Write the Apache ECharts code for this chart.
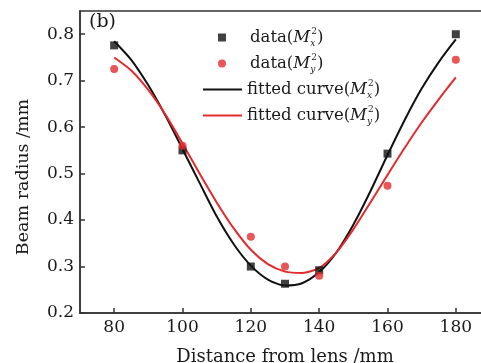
<!DOCTYPE html>
<html>
<head>
<meta charset="utf-8">
<script src="https://cdn.jsdelivr.net/npm/echarts@6/dist/echarts.min.js"></script>
<style>
  html, body { margin: 0; padding: 0; background: #fff; }
  #chart { width: 481px; height: 363px; }
</style>
</head>
<body>
<div id="chart"></div>
<script>
// measured points
const distance = [80, 100, 120, 130, 140, 160, 180];
const radiusX = [0.776, 0.55, 0.30, 0.263, 0.292, 0.543, 0.80];
const radiusY = [0.725, 0.56, 0.364, 0.30, 0.28, 0.474, 0.745];

// fitted curves
const fitDistance = [80, 85, 90, 95, 100, 105, 110, 115, 120, 125, 130, 135, 140, 145, 150, 155, 160, 165, 170, 175, 180];
const fitX = [0.785, 0.745, 0.690, 0.625, 0.553, 0.480, 0.408, 0.348, 0.302, 0.272, 0.259, 0.264, 0.288, 0.330, 0.390, 0.462, 0.540, 0.615, 0.683, 0.740, 0.789];
const fitY = [0.750, 0.722, 0.680, 0.627, 0.565, 0.500, 0.438, 0.382, 0.336, 0.305, 0.289, 0.286, 0.297, 0.330, 0.380, 0.438, 0.497, 0.555, 0.610, 0.660, 0.707];

const xTicks = [80, 100, 120, 140, 160, 180];
const yTicks = [0.2, 0.3, 0.4, 0.5, 0.6, 0.7, 0.8];

const SERIF = 'DejaVu Serif';
const RED = '#e52a2d';
const BLACK = '#111';
const TEXT = '#1a1a1a';

const pair = (xs, ys) => xs.map((x, i) => [x, ys[i]]);

// legend labels with M^2 sub/superscripts
const legendText = {
  'data(Mx)': '{t0|data(}{m|M}{sb|x}{sp|2}{t|)}',
  'data(My)': '{t0|data(}{m|M}{sb|y}{sp|2}{t|)}',
  'fit(Mx)': '{t|fitted curve(}{m|M}{sb|x}{sp|2}{t|)}',
  'fit(My)': '{t|fitted curve(}{m|M}{sb|y}{sp|2}{t|)}'
};

const legendRich = {
  t0: { fontFamily: SERIF, fontSize: 16.5, color: TEXT, lineHeight: 26, verticalAlign: 'middle', padding: [0, 0, 0, 19] },
  t: { fontFamily: SERIF, fontSize: 16.5, color: TEXT, lineHeight: 26, verticalAlign: 'middle' },
  m: { fontFamily: SERIF, fontSize: 16.5, fontStyle: 'italic', color: TEXT, lineHeight: 26, verticalAlign: 'middle' },
  sb: { fontFamily: SERIF, fontSize: 9, fontStyle: 'italic', color: TEXT, lineHeight: 26, verticalAlign: 'bottom', width: 1, padding: [0, 0, 2, 0] },
  sp: { fontFamily: SERIF, fontSize: 9, color: TEXT, lineHeight: 26, verticalAlign: 'top', padding: [3, 0, 0, 0] }
};

const chart = echarts.init(document.getElementById('chart'), null, { renderer: 'canvas' });

const option = {
  animation: false,
  backgroundColor: '#fff',
  title: {
    text: '(b)',
    left: 89,
    top: 13,
    padding: 0,
    textStyle: { fontFamily: SERIF, fontSize: 19, fontWeight: 'normal', color: TEXT }
  },
  grid: {
    left: 80,
    right: -9,
    top: 11,
    bottom: 50,
    outerBoundsMode: 'none',
    containLabel: false,
    show: true,
    borderColor: '#333',
    borderWidth: 1.5
  },
  legend: [
    {
      // markers
      orient: 'vertical',
      left: 218,
      top: 24.5,
      itemWidth: 8,
      itemHeight: 8,
      itemGap: 0,
      padding: 0,
      selectedMode: false,
      data: [
        { name: 'data(Mx)', icon: 'rect' },
        { name: 'data(My)', icon: 'circle' }
      ],
      formatter: name => legendText[name],
      textStyle: { rich: legendRich }
    },
    {
      // fitted lines
      orient: 'vertical',
      left: 203,
      top: 76.5,
      itemWidth: 39,
      itemHeight: 2,
      itemGap: 0,
      padding: 0,
      selectedMode: false,
      data: [
        { name: 'fit(Mx)', icon: 'rect' },
        { name: 'fit(My)', icon: 'rect' }
      ],
      formatter: name => legendText[name],
      textStyle: { rich: legendRich }
    }
  ],
  xAxis: {
    type: 'value',
    min: 70,
    max: 190,
    name: 'Distance from lens /mm',
    nameLocation: 'middle',
    nameGap: 35,
    nameTextStyle: { fontFamily: SERIF, fontSize: 18, color: TEXT },
    axisLine: { show: true, lineStyle: { color: '#333', width: 1.5 } },
    axisTick: { show: true, inside: true, length: 5, customValues: xTicks, lineStyle: { color: '#333', width: 1.5 } },
    axisLabel: { customValues: xTicks, margin: 6, fontFamily: SERIF, fontSize: 17, color: TEXT },
    splitLine: { show: false }
  },
  yAxis: {
    type: 'value',
    min: 0.2,
    max: 0.85,
    name: 'Beam radius /mm',
    nameLocation: 'middle',
    nameGap: 48,
    nameTextStyle: { fontFamily: SERIF, fontSize: 17.5, color: TEXT, padding: [0, 30, 0, 0] },
    axisLine: { show: true, lineStyle: { color: '#333', width: 1.5 } },
    axisTick: { show: true, inside: true, length: 5, customValues: yTicks, lineStyle: { color: '#333', width: 1.5 } },
    axisLabel: { customValues: yTicks, margin: 6, fontFamily: SERIF, fontSize: 17, color: TEXT, formatter: v => v.toFixed(1) },
    splitLine: { show: false }
  },
  series: [
    {
      name: 'fit(Mx)',
      type: 'line',
      data: pair(fitDistance, fitX),
      smooth: 0.25,
      symbol: 'none',
      lineStyle: { color: BLACK, width: 2 },
      itemStyle: { color: BLACK },
      z: 3
    },
    {
      name: 'fit(My)',
      type: 'line',
      data: pair(fitDistance, fitY),
      smooth: 0.25,
      symbol: 'none',
      lineStyle: { color: RED, width: 2 },
      itemStyle: { color: RED },
      z: 3
    },
    {
      name: 'data(Mx)',
      type: 'scatter',
      data: pair(distance, radiusX),
      symbol: 'rect',
      symbolSize: 8,
      itemStyle: { color: BLACK },
      z: 4
    },
    {
      name: 'data(My)',
      type: 'scatter',
      data: pair(distance, radiusY),
      symbol: 'circle',
      symbolSize: 8,
      itemStyle: { color: RED },
      z: 4
    }
  ]
};

chart.setOption(option);
</script>
</body>
</html>
